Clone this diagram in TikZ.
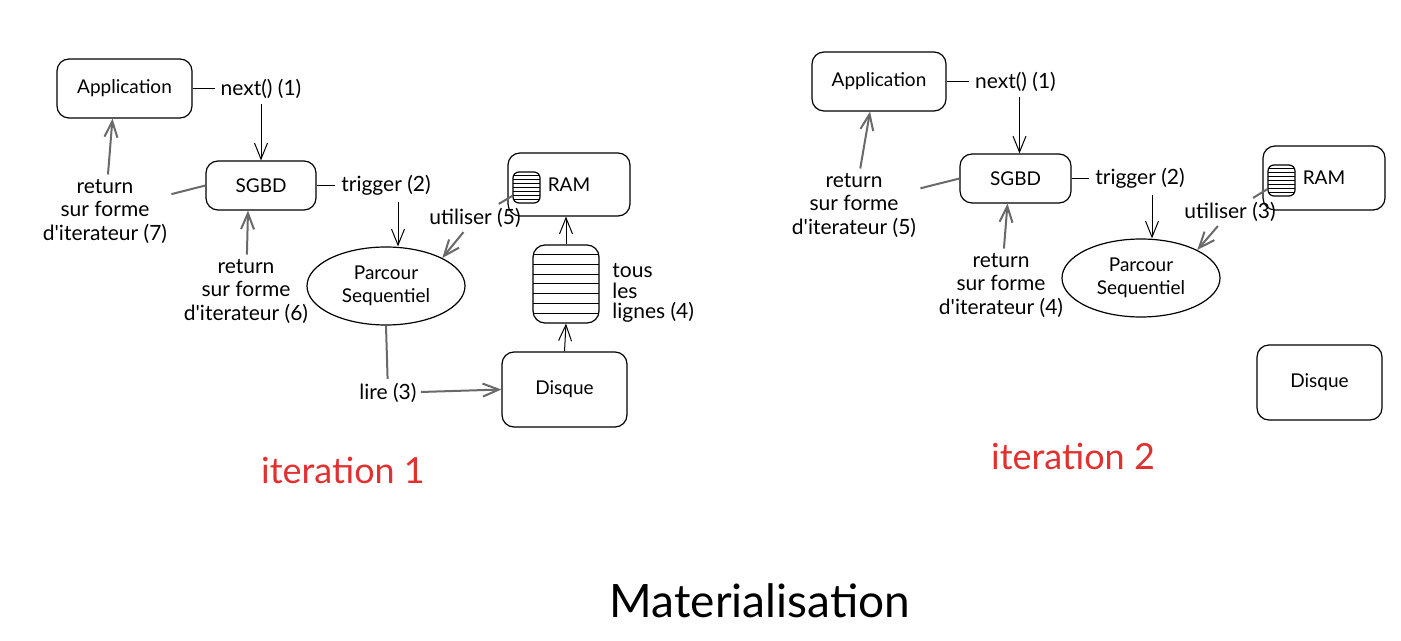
\documentclass[tikz,border=0pt]{standalone}
\usepackage{fontspec}
\setmainfont{Lato}
\usetikzlibrary{arrows.meta}
\usetikzlibrary{shapes}
\usetikzlibrary{calc}
\definecolor{exRed}{RGB}{224,49,49}
\definecolor{retGray}{RGB}{105,105,105}

\begin{document}
\begin{tikzpicture}[x = 0.5pt, y = -0.5pt, font = \fontsize{9.5}{11.75}\selectfont, >={Straight Barb[length = 8pt, width = 6.5pt]}]
	\tikzstyle{boxStyle} = [draw, rounded corners = 6pt, line width = 0.6pt, inner sep = 0pt]
	\tikzstyle{ellipseStyle} = [draw, shape = ellipse, line width = 0.6pt, inner sep = 0pt, minimum width = 79pt, minimum height = 39pt, align = center]
	\tikzstyle{stripedStyle} = [draw, rounded corners = 3pt, line width = 0.6pt, inner sep = 0pt,
		path picture = {\foreach \k in {1,...,7} {\draw[line width = 0.5pt] ($(path picture bounding box.north west)!\k/8!(path picture bounding box.south west)$) -- ($(path picture bounding box.north east)!\k/8!(path picture bounding box.south east)$);}}]
	\tikzstyle{labelStyle} = [align = center, inner sep = 2pt, font = \fontsize{10.5}{11.75}\selectfont]
	\tikzstyle{cornerLabelStyle} = [fill = white, inner sep = 3pt, font = \fontsize{10.5}{11.75}\selectfont]
	\tikzstyle{callStyle} = [->, line width = 0.5pt]
	\tikzstyle{returnStyle} = [draw = retGray, line width = 1pt]
	\tikzstyle{titleStyle} = [text = exRed, font = \fontsize{18}{21}\selectfont]
	\useasboundingbox (0,0) rectangle (1401,641);
	% iteration 1
	\node[boxStyle, minimum width = 67.5pt, minimum height = 29.5pt] (app1) at (124.5,88.5) {Application};
	\node[boxStyle, minimum width = 55pt, minimum height = 24.5pt] (sgbd1) at (261,185.5) {SGBD};
	\node[ellipseStyle] (parcour1) at (386,286) {Parcour\\Sequentiel};
	\node[boxStyle, minimum width = 61pt, minimum height = 31.5pt] (ram1) at (569,184.5) {RAM};
	\node[stripedStyle, minimum width = 13.5pt, minimum height = 15.5pt] (icon1) at (526.5,187.5) {};
	\node[stripedStyle, rounded corners = 6pt, minimum width = 33pt, minimum height = 39pt] (stack1) at (566,284) {};
	\node[boxStyle, minimum width = 62.5pt, minimum height = 37.5pt] (disque1) at (564.5,389.5) {Disque};
	\node[labelStyle] (ret7) at (105,211) {return\\sur forme\\d\textquotesingle iterateur (7)};
	\node[labelStyle] (ret6) at (246,291) {return\\sur forme\\d\textquotesingle iterateur (6)};
	\node[labelStyle] (use5) at (475,218) {utiliser (5)};
	\node[labelStyle] (lire3) at (388,393) {lire (3)};
	\node[labelStyle, anchor = west, align = left, font = \fontsize{10.5}{10.25}\selectfont] (lignes4) at (608,293) {tous\\les\\lignes (4)};
	\draw[callStyle] (app1) -| node[cornerLabelStyle] {next() (1)} (sgbd1);
	\draw[callStyle] (sgbd1) -| node[cornerLabelStyle, xshift = -6pt] {trigger (2)} ([xshift = 6pt]parcour1.north);
	\draw[returnStyle] (sgbd1.west) -- (ret7);
	\draw[returnStyle, ->] (ret7) -- ([xshift = -6pt]app1.south);
	\draw[returnStyle, ->] (ret6) -- ([xshift = -6.5pt]sgbd1.south);
	\draw[returnStyle] (icon1) -- (use5);
	\draw[returnStyle, ->] (use5) -- (parcour1.north east);
	\draw[returnStyle] (parcour1.south) -- (lire3);
	\draw[returnStyle, ->] (lire3) -- (disque1.west);
	\draw[callStyle] (disque1.north) -- (stack1.south);
	\draw[callStyle] (stack1.north) -- (stack1.north |- ram1.south);
	\node[titleStyle] (iter1) at (343,470) {iteration 1};
	% iteration 2
	\node[boxStyle, minimum width = 67pt, minimum height = 29.5pt] (app2) at (879,81.5) {Application};
	\node[boxStyle, minimum width = 55.5pt, minimum height = 24.5pt] (sgbd2) at (1015.5,178.5) {SGBD};
	\node[ellipseStyle] (parcour2) at (1141,278) {Parcour\\Sequentiel};
	\node[boxStyle, minimum width = 61pt, minimum height = 32pt] (ram2) at (1324,178) {RAM};
	\node[stripedStyle, minimum width = 13.5pt, minimum height = 15.5pt] (icon2) at (1281.5,180.5) {};
	\node[boxStyle, minimum width = 62.5pt, minimum height = 37.5pt] (disque2) at (1319.5,382.5) {Disque};
	\node[labelStyle] (ret5) at (854,205) {return\\sur forme\\d\textquotesingle iterateur (5)};
	\node[labelStyle] (ret4) at (1001,285) {return\\sur forme\\d\textquotesingle iterateur (4)};
	\node[labelStyle] (use3) at (1230,212) {utiliser (3)};
	\draw[callStyle] (app2) -| node[cornerLabelStyle, xshift = -2pt] {next() (1)} ([xshift = 2pt]sgbd2.north);
	\draw[callStyle] (sgbd2) -| node[cornerLabelStyle, xshift = -6pt] {trigger (2)} ([xshift = 5.5pt]parcour2.north);
	\draw[returnStyle] (sgbd2.west) -- (ret5);
	\draw[returnStyle, ->] (ret5) -- ([xshift = -4.5pt]app2.south);
	\draw[returnStyle, ->] (ret4) -- ([xshift = -4pt]sgbd2.south);
	\draw[returnStyle] (icon2) -- (use3);
	\draw[returnStyle, ->] (use3) -- (parcour2.north east);
	\node[titleStyle] (iter2) at (1073,456) {iteration 2};
	% title
	\node[font = \fontsize{23}{27}\selectfont] (title) at (760,601) {Materialisation};
\end{tikzpicture}
\end{document}
